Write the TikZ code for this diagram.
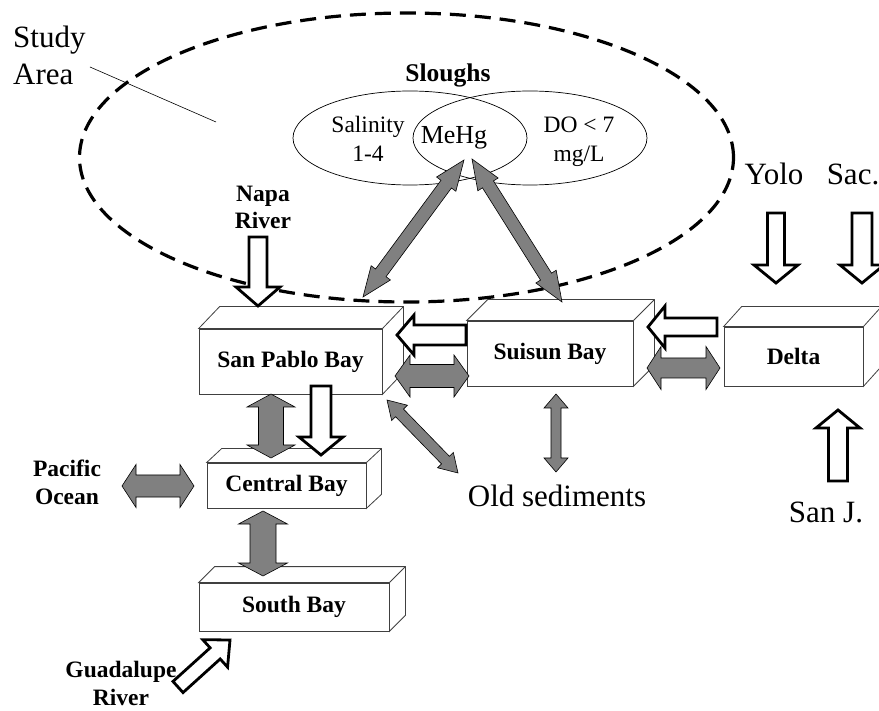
\documentclass[tikz,border=0pt]{standalone}
\usepackage{fontspec}
\setmainfont{Liberation Serif}
\usetikzlibrary{calc,shapes.geometric}
\tikzset{
  bay/.style={draw=black!75,line width=0.8pt,fill=white,inner sep=0pt,
              font=\fontsize{23.5}{26}\selectfont\bfseries},
  baydraw/.style={draw=black!75,line width=0.8pt,fill=white},
  exchange/.style={fill=black!50,draw=black,line width=0.6pt,line join=miter},
  inflow/.style={fill=white,draw=black,line width=2.8pt,line join=miter},
  area/.style={draw,ellipse,line width=3.2pt,dash pattern=on 16pt off 9pt},
  slough/.style={draw,ellipse,line width=0.7pt},
  biglbl/.style={font=\fontsize{31}{37}\selectfont,inner sep=0pt,align=left},
  srclbl/.style={font=\fontsize{23.5}{27.5}\selectfont\bfseries,inner sep=0pt,align=center},
  slulbl/.style={font=\fontsize{23.5}{29}\selectfont,inner sep=0pt,align=center},
  pointer/.style={draw,line width=0.6pt},
}
% top and side face of a bay block
\newcommand{\baydepth}[3]{%
  \draw[baydraw] (#1.north west) -- ++(#2,#3) -| ($(#1.south east)+(#2,#3)$)
    -- (#1.south east) -- (#1.north east) -- cycle;
  \draw[baydraw] (#1.north east) -- ++(#2,#3);
}
% grey two-way exchange: from, to, head length, shaft half, head half
\newcommand{\exchflow}[5]{%
  \coordinate (ha) at ($(#1)!#3pt!(#2)$);
  \coordinate (hb) at ($(#2)!#3pt!(#1)$);
  \draw[exchange] (#1) -- ($(ha)!#5pt!90:(#2)$) -- ($(ha)!#4pt!90:(#2)$)
    -- ($(hb)!#4pt!-90:(#1)$) -- ($(hb)!#5pt!-90:(#1)$) -- (#2)
    -- ($(hb)!#5pt!90:(#1)$) -- ($(hb)!#4pt!90:(#1)$)
    -- ($(ha)!#4pt!-90:(#2)$) -- ($(ha)!#5pt!-90:(#2)$) -- cycle;
}
% white one-way inflow: tail, tip, head length, shaft half, head half
\newcommand{\riverflow}[5]{%
  \coordinate (hb) at ($(#2)!#3pt!(#1)$);
  \draw[inflow] ($(#1)!#4pt!90:(#2)$) -- ($(hb)!#4pt!-90:(#1)$)
    -- ($(hb)!#5pt!-90:(#1)$) -- (#2) -- ($(hb)!#5pt!90:(#1)$)
    -- ($(hb)!#4pt!90:(#1)$) -- ($(#1)!#4pt!-90:(#2)$) -- cycle;
}

\begin{document}
\begin{tikzpicture}[x=1pt,y=-1pt]
  \useasboundingbox (0,0) rectangle (879,711);

  % study area and sloughs
  \node[area,minimum width=654pt,minimum height=289pt] (studyarea) at (406.5,157.5) {};
  \node[slough,minimum width=234pt,minimum height=94pt] (saline) at (410,138) {};
  \node[slough,minimum width=234pt,minimum height=94pt] (lowdo) at (530,138) {};
  \node[biglbl,anchor=base west] (study) at (13,85) {Study\\Area};
  \coordinate (ptr) at (90,67);
  \coordinate (ptrend) at (216,122);
  \draw[pointer] (ptr) -- (ptrend);
  \node[font=\fontsize{25.5}{28}\selectfont\bfseries,inner sep=0pt,anchor=base] (slu) at (448,82) {Sloughs};
  \node[slulbl,anchor=base] (salin) at (368,162) {Salinity\\1-4};
  \node[font=\fontsize{26}{28}\selectfont,inner sep=0pt,anchor=base] (mehg) at (454,144) {MeHg};
  \node[slulbl,anchor=base] (dolbl) at (579,162) {DO < 7\\mg/L};

  % sources and sinks
  \node[srclbl,anchor=base] (napa) at (263,229) {Napa\\River};
  \node[srclbl,anchor=base] (pacific) at (67,504) {Pacific\\Ocean};
  \node[srclbl,anchor=base] (guad) at (121,705) {Guadalupe\\River};
  \node[biglbl,anchor=base] (yolo) at (774,185) {Yolo};
  \node[biglbl,anchor=base] (sac) at (853,185) {Sac.};
  \node[biglbl,anchor=base] (oldsed) at (557,506) {Old sediments};
  \node[biglbl,anchor=base] (sanj) at (826,522) {San J.};

  % bay blocks
  \node[bay,minimum width=183pt,minimum height=65pt] (spb) at (290.5,361.5) {San Pablo Bay};
  \baydepth{spb}{21}{-22}
  \node[bay,minimum width=159pt,minimum height=45pt] (cb) at (286.5,485.5) {Central Bay};
  \baydepth{cb}{15}{-14}
  \node[bay,minimum width=190pt,minimum height=48pt] (sb) at (294,607) {South Bay};
  \baydepth{sb}{16}{-16}
  \node[bay,minimum width=166pt,minimum height=65pt] (sui) at (550,353.5) {Suisun Bay};
  \baydepth{sui}{21}{-21}
  \node[bay,minimum width=139pt,minimum height=59pt] (del) at (793.5,356.5) {Delta};
  \baydepth{del}{18}{-20}

  % arrow ends
  \coordinate (mehgL) at (464,160);  \coordinate (spbup) at (363,297);
  \coordinate (mehgR) at (472,159);  \coordinate (suiup) at (562,302);
  \coordinate (spbE) at (395,376);   \coordinate (suiW) at (469,376);
  \coordinate (suiE) at (647,368);   \coordinate (delW) at (720,368);
  \coordinate (spbS) at (271,394);   \coordinate (cbN) at (271,458);
  \coordinate (cbS) at (263,511);    \coordinate (sbN) at (263,576);
  \coordinate (ocean) at (122,486);  \coordinate (cbW) at (194,486);
  \coordinate (spbSE) at (387,400);  \coordinate (sedW) at (458,473);
  \coordinate (suiS) at (556,394);   \coordinate (sedN) at (556,472);

  % exchanges
  \exchflow{mehgL}{spbup}{30}{6.5}{12}
  \exchflow{mehgR}{suiup}{30}{6.5}{12}
  \exchflow{spbE}{suiW}{15}{11.5}{21}
  \exchflow{suiE}{delW}{14}{10}{21.5}
  \exchflow{spbS}{cbN}{13}{12.5}{24}
  \exchflow{cbS}{sbN}{13}{13}{24.5}
  \exchflow{ocean}{cbW}{14}{11}{21.5}
  \exchflow{spbSE}{sedW}{18}{5.5}{11}
  \exchflow{suiS}{sedN}{14}{5}{12}

  % inflows
  \coordinate (napaT) at (258,237);  \coordinate (napaH) at (258,306);
  \coordinate (suiT) at (466,335);   \coordinate (suiH) at (397,335);
  \coordinate (delT) at (717,327);   \coordinate (delH) at (648,327);
  \coordinate (spbT) at (321,386);   \coordinate (spbH) at (321,455);
  \coordinate (yoloT) at (776,213);  \coordinate (yoloH) at (776,283);
  \coordinate (sacT) at (862,213);   \coordinate (sacH) at (862,283);
  \coordinate (sanjT) at (838,481);  \coordinate (sanjH) at (838,410);
  \coordinate (guadT) at (178,687);  \coordinate (guadH) at (230,640);
  \riverflow{napaT}{napaH}{19}{9}{22}
  \riverflow{suiT}{suiH}{17}{10}{20}
  \riverflow{delT}{delH}{17}{9}{21}
  \riverflow{spbT}{spbH}{18}{10}{22}
  \riverflow{yoloT}{yoloH}{18}{8.5}{22}
  \riverflow{sacT}{sacH}{18}{10}{22}
  \riverflow{sanjT}{sanjH}{18}{9.5}{22}
  \riverflow{guadT}{guadH}{20}{7.5}{18.5}
\end{tikzpicture}
\end{document}
